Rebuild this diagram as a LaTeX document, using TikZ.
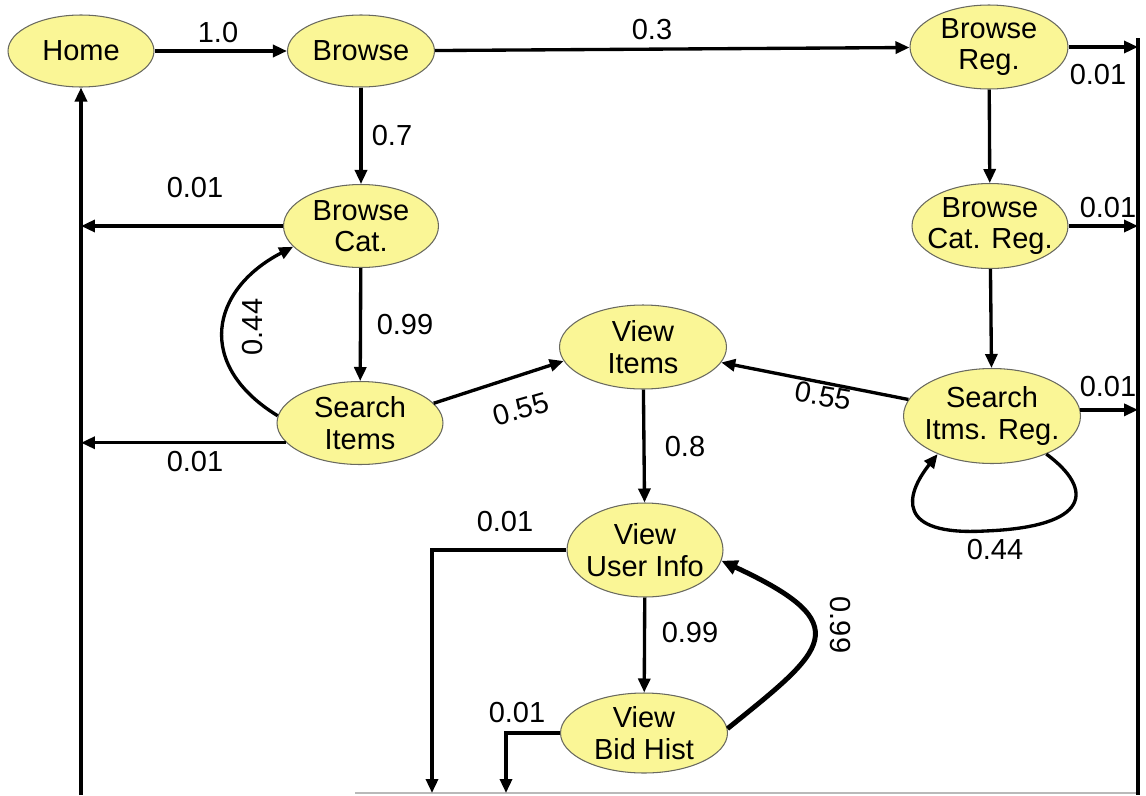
\documentclass[tikz,border=0pt]{standalone}
\usepackage{fontspec}
\setmainfont{Liberation Sans}
\usetikzlibrary{shapes.geometric,arrows.meta}
\definecolor{nodefill}{RGB}{250,246,150}
\definecolor{nodeline}{RGB}{105,105,95}
\begin{document}
\begin{tikzpicture}[x=0.02cm,y=-0.02cm,
  font=\fontsize{16.5}{18}\selectfont,
  state/.style={ellipse, draw=nodeline, line width=0.6pt, fill=nodefill, inner sep=0pt},
  edge/.style={line width=1.9pt, -{Triangle[length=2.8mm,width=2.4mm]}},
  thickedge/.style={line width=2.8pt, -{Triangle[length=3.2mm,width=2.9mm]}},
  plain/.style={line width=1.9pt},
  prob/.style={inner sep=0pt}]
\useasboundingbox (0,0) rectangle (1146,795);

% states
\node[state, minimum width=2.92cm, minimum height=1.44cm, label={[align=center]center:Home}] (home) at (81,51) {};
\node[state, minimum width=2.94cm, minimum height=1.44cm, label={[align=center]center:Browse}] (browse) at (361,51) {};
\node[state, minimum width=3.10cm, minimum height=1.66cm, label={[align=center]center:{Browse\\Cat.}}] (bcat) at (361,226) {};
\node[state, minimum width=3.32cm, minimum height=1.66cm, label={[align=center]center:{Search\\Items}}] (sitems) at (360,423) {};
\node[state, minimum width=3.16cm, minimum height=1.68cm, label={[align=center]center:{Browse\\Reg.}}] (breg) at (989,47) {};
\node[state, minimum width=3.12cm, minimum height=1.70cm, label={[align=center]center:{Browse\\Cat. Reg.}}] (bcreg) at (990,226) {};
\node[state, minimum width=3.54cm, minimum height=1.90cm, label={[align=center]center:{Search\\Itms. Reg.}}] (sreg) at (992,416) {};
\node[state, minimum width=3.34cm, minimum height=1.68cm, label={[align=center]center:{View\\Items}}] (vitems) at (643,347) {};
\node[state, minimum width=3.12cm, minimum height=1.88cm, label={[align=center]center:{View\\User Info}}] (vuser) at (645,550) {};
\node[state, minimum width=3.34cm, minimum height=1.60cm, label={[align=center]center:{View\\Bid Hist}}] (vbid) at (644,733) {};

% exit rails
\coordinate (lbot) at (81,795);
\coordinate (rtop) at (1138,38);
\coordinate (rbot) at (1138,795);
\coordinate (vdrop) at (432,793);
\coordinate (bdrop) at (506,793);
\coordinate (base) at (355,793);

\draw[gray!55, line width=1pt] (base) -- (base -| rbot);
\draw[edge] (lbot) -- (home);
\draw[plain] (rtop) -- (rbot);

% transitions
\draw[edge] (home) -- (browse);
\draw[edge] (browse) -- (breg);
\draw[edge] (browse) -- (bcat);
\draw[edge] (bcat) -- (sitems);
\draw[edge] (bcat.west) -- (bcat.west -| lbot);
\draw[edge] (sitems.195) -- (sitems.195 -| lbot);
\draw[edge] (sitems.175) .. controls (195,365) and (210,290) .. (bcat.197);
\draw[edge] (sitems.15) -- (vitems.190);
\draw[edge] (sreg) -- (vitems);
\draw[edge] (vitems) -- (vuser);
\draw[edge] (vuser) -- (vbid);
\draw[thickedge] (vbid.3) .. controls (825,650) and (860,625) .. (vuser.-8);
\draw[edge] (vuser.west) -- (vuser.west -| vdrop) -- (vdrop);
\draw[edge] (vbid.west) -- (vbid.west -| bdrop) -- (bdrop);
\draw[edge] (breg) -- (bcreg);
\draw[edge] (bcreg) -- (sreg);
\draw[edge] (breg.east) -- (breg.east -| rtop);
\draw[edge] (bcreg.east) -- (bcreg.east -| rtop);
\draw[edge] (sreg.4) -- (sreg.4 -| rtop);
\draw[edge] (sreg.-35) .. controls (1095,490) and (1090,527) .. (985,531)
                      .. controls (895,536) and (905,495) .. (sreg.-145);

% probabilities
\node[prob] (p1) at (218,33) {1.0};
\node[prob] (p2) at (652,30) {0.3};
\node[prob] (p3) at (392,136) {0.7};
\node[prob] (p4) at (195,188) {0.01};
\node[prob] (p5) at (195,462) {0.01};
\node[prob, rotate=90] (p6) at (253,327) {0.44};
\node[prob] (p7) at (405,325) {0.99};
\node[prob, rotate=16] (p8) at (521,409) {0.55};
\node[prob, rotate=-10] (p9) at (823,396) {0.55};
\node[prob] (p10) at (685,447) {0.8};
\node[prob] (p11) at (505,522) {0.01};
\node[prob] (p12) at (690,633) {0.99};
\node[prob, rotate=-90] (p13) at (840,625) {0.99};
\node[prob] (p14) at (517,713) {0.01};
\node[prob] (p15) at (1098,75) {0.01};
\node[prob] (p16) at (1108,208) {0.01};
\node[prob] (p17) at (1108,387) {0.01};
\node[prob] (p18) at (995,550) {0.44};
\end{tikzpicture}
\end{document}
